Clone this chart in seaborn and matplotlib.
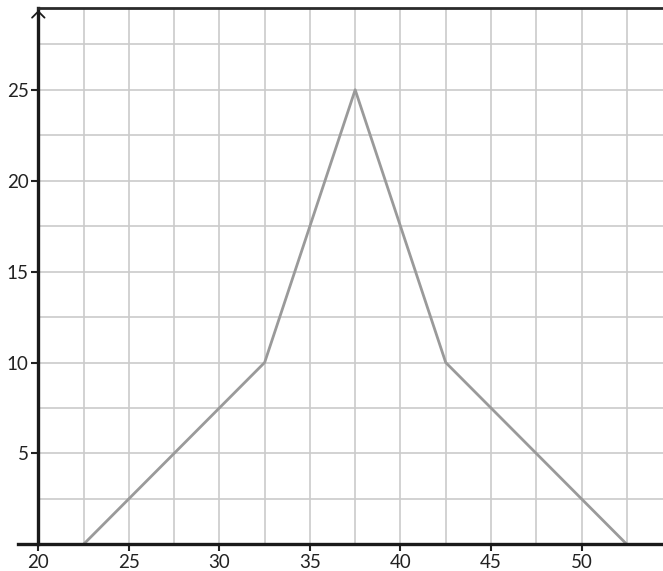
import matplotlib
matplotlib.use("Agg")
import matplotlib.pyplot as plt
import seaborn as sns
import pandas as pd
import numpy as np

x_vals = [22.5, 32.5, 37.5, 42.5, 52.5]
y_vals = [0, 10, 25, 10, 0]
x_ticks = [20, 25, 30, 35, 40, 45, 50]
y_ticks = [5, 10, 15, 20, 25]

sns.set_theme(style="white")
plt.rcParams['font.family'] = ['Lato', 'DejaVu Sans']

df = pd.DataFrame({"x": x_vals, "y": y_vals})

fig = plt.figure(figsize=(6.63, 5.71), dpi=100)
W, H = 663, 571
ax = fig.add_axes([38.3 / W, (571 - 544.3) / H, (663 - 38.3) / W, (544.3 - 8) / H])

ax.set_xlim(20, 54.5)
ax.set_ylim(0, 29.5)

ax.set_xticks(np.arange(20, 54.5, 2.5), minor=True)
ax.set_yticks(np.arange(0, 29.5, 2.5), minor=True)
ax.grid(True, which="minor", color="#cbcbcb", linewidth=1.2)
ax.grid(True, which="major", color="#cbcbcb", linewidth=1.2)
ax.set_axisbelow(True)

sns.lineplot(data=df, x="x", y="y", ax=ax, color="#9a9a9a", linewidth=2.0, clip_on=False)

ax.set_xticks(x_ticks)
ax.set_yticks(y_ticks)
ax.set_xticklabels([str(v) for v in x_ticks], fontsize=13.5)
ax.set_yticklabels([str(v) for v in y_ticks], fontsize=13.5)
ax.tick_params(axis="both", which="major", length=5, width=1.5, color="#222222",
               direction="out", pad=2, labelcolor="#222222")
ax.tick_params(axis="both", which="minor", length=0)
ax.tick_params(axis="x", bottom=True)
ax.tick_params(axis="y", left=True)
ax.set_xlabel("")
ax.set_ylabel("")

for side in ["left", "bottom"]:
    ax.spines[side].set_color("#1a1a1a")
    ax.spines[side].set_linewidth(2.4)
ax.spines["top"].set_color("#2a2a2a")
ax.spines["top"].set_linewidth(2.0)
ax.spines["right"].set_visible(False)
ax.spines["bottom"].set_bounds(18.9, 54.5)

ax.annotate("", xy=(0, 0.996), xytext=(0, 0.96), xycoords="axes fraction",
            arrowprops=dict(arrowstyle="->,head_length=0.3,head_width=0.3",
                            color="#1a1a1a", lw=1.3,
                            mutation_scale=15, shrinkA=0, shrinkB=0))

fig.savefig("out.png", dpi=100)
